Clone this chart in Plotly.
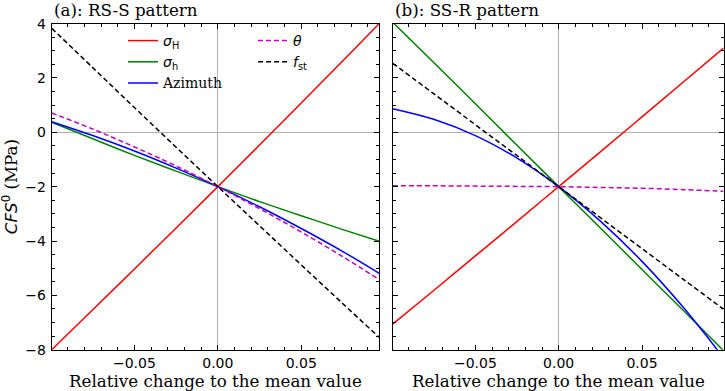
import plotly.graph_objects as go

# ---------------- data ----------------
x_a = [-0.0996, -0.075, -0.05, -0.025, 0.0, 0.025, 0.05, 0.075, 0.0968]
a_sigH = [-8.00, -6.53, -5.03, -3.52, -2.00, -0.47, 1.08, 2.63, 4.00]
a_sigh = [0.37, -0.24, -0.85, -1.43, -2.00, -2.55, -3.07, -3.58, -4.01]
a_azim = [0.39, -0.12, -0.69, -1.32, -2.00, -2.74, -3.54, -4.39, -5.19]
a_theta = [0.71, 0.12, -0.54, -1.24, -2.00, -2.81, -3.67, -4.58, -5.42]
a_fst = [3.83, 2.38, 0.91, -0.55, -2.00, -3.44, -4.88, -6.31, -7.55]

x_b = [-0.0996, -0.075, -0.05, -0.025, 0.0, 0.025, 0.05, 0.075, 0.0989]
b_sigH = [-7.06, -5.82, -4.55, -3.28, -2.00, -0.72, 0.57, 1.86, 3.10]
b_sigh = [4.05, 2.57, 1.05, -0.48, -2.00, -3.52, -5.05, -6.57, -8.03]
b_azim = [0.87, 0.48, -0.12, -0.95, -2.00, -3.27, -4.75, -6.46, -8.30]
b_theta = [-1.97, -1.97, -1.98, -1.99, -2.00, -2.03, -2.06, -2.11, -2.17]
b_fst = [2.54, 1.42, 0.28, -0.86, -2.00, -3.14, -4.28, -5.42, -6.51]

names = [
    "<span style='font-family:DejaVu Sans'><i>σ</i><sub>H</sub></span>",
    "<span style='font-family:DejaVu Sans'><i>σ</i><sub>h</sub></span>",
    "Azimuth",
    "<span style='font-family:DejaVu Sans'><i>θ</i></span>",
    "<span style='font-family:DejaVu Sans'><i>f</i><sub>st</sub></span>",
]
colors = ["#ff0000", "#008000", "#0000ff", "#bf00bf", "#000000"]
dashes = ["solid", "solid", "solid", "5px,3px", "5px,3px"]
legends = ["legend", "legend", "legend", "legend2", "legend2"]

titles = ["(a): RS-S pattern", "(b): SS-R pattern"]
xlabel = "Relative change to the mean value"
ylabel = "<span style='font-family:DejaVu Sans'><i>CFS</i><sup>0</sup></span> (MPa)"

W, H = 725, 391
# plot area pixel boxes
L1, R1 = 51.7, 379.3
L2, R2 = 392.7, 723.5
T, B = 23.6, 349.7

fig = go.Figure()
series_a = [a_sigH, a_sigh, a_azim, a_theta, a_fst]
series_b = [b_sigH, b_sigh, b_azim, b_theta, b_fst]
for i in range(5):
    fig.add_trace(go.Scatter(
        x=x_a, y=series_a[i], mode="lines", name=names[i],
        line=dict(color=colors[i], width=1.5, dash=dashes[i], shape="spline"),
        xaxis="x", yaxis="y", legend=legends[i], showlegend=True))
for i in range(5):
    fig.add_trace(go.Scatter(
        x=x_b, y=series_b[i], mode="lines", name=names[i],
        line=dict(color=colors[i], width=1.5, dash=dashes[i], shape="spline"),
        xaxis="x2", yaxis="y2", showlegend=False))

tickfont = dict(family="DejaVu Sans", size=14, color="black")
common = dict(showline=True, linecolor="black", linewidth=1, mirror="ticks",
              ticks="inside", ticklen=5, tickwidth=1, tickcolor="black",
              showgrid=False, zeroline=True, zerolinecolor="#b0b0b0",
              zerolinewidth=1, tickfont=tickfont, automargin=False)

xcommon = dict(common, dtick=0.05, tick0=0, tickformat=".2f",
               minor=dict(ticks="inside", ticklen=3, tickwidth=1,
                          tickcolor="black", dtick=0.01))
ycommon = dict(common, dtick=2, tick0=0, range=[-8, 4],
               ticklabelstandoff=2,
               minor=dict(ticks="inside", ticklen=3, tickwidth=1,
                          tickcolor="black", dtick=0.5))

legfont = dict(family="DejaVu Serif", size=14, color="black")
fig.update_layout(
    width=W, height=H,
    margin=dict(l=0, r=0, t=0, b=0, autoexpand=False),
    paper_bgcolor="white", plot_bgcolor="white",
    xaxis=dict(xcommon, domain=[L1 / W, R1 / W], range=[x_a[0], x_a[-1]],
               anchor="y"),
    yaxis=dict(ycommon, domain=[1 - B / H, 1 - T / H], anchor="x"),
    xaxis2=dict(xcommon, domain=[L2 / W, R2 / W], range=[x_b[0], x_b[-1]],
                anchor="y2"),
    yaxis2=dict(ycommon, domain=[1 - B / H, 1 - T / H], anchor="x2",
                showticklabels=False),
    legend=dict(x=123 / W, y=1 - 25 / H, xanchor="left", yanchor="top",
                bgcolor="rgba(0,0,0,0)", font=legfont),
    legend2=dict(x=253 / W, y=1 - 25 / H, xanchor="left", yanchor="top",
                 bgcolor="rgba(0,0,0,0)", font=legfont),
    showlegend=True,
)

ann_font = dict(family="DejaVu Serif", size=16.7, color="black")
fig.add_annotation(text=titles[0], x=L1 / W, y=1 - 9.5 / H, xref="paper",
                   yref="paper", xanchor="left", yanchor="middle",
                   showarrow=False, font=ann_font)
fig.add_annotation(text=titles[1], x=L2 / W, y=1 - 9.5 / H, xref="paper",
                   yref="paper", xanchor="left", yanchor="middle",
                   showarrow=False, font=ann_font)
fig.add_annotation(text=xlabel, x=(L1 + R1) / 2 / W, y=1 - 380.5 / H,
                   xref="paper", yref="paper", xanchor="center",
                   yanchor="middle", showarrow=False, font=ann_font)
fig.add_annotation(text=xlabel, x=(L2 + R2) / 2 / W, y=1 - 380.5 / H,
                   xref="paper", yref="paper", xanchor="center",
                   yanchor="middle", showarrow=False, font=ann_font)
fig.add_annotation(text=ylabel, x=9.5 / W, y=1 - (T + B) / 2 / H,
                   xref="paper", yref="paper", xanchor="center",
                   yanchor="middle", textangle=-90, showarrow=False,
                   font=ann_font)

fig.write_html("out.html")
